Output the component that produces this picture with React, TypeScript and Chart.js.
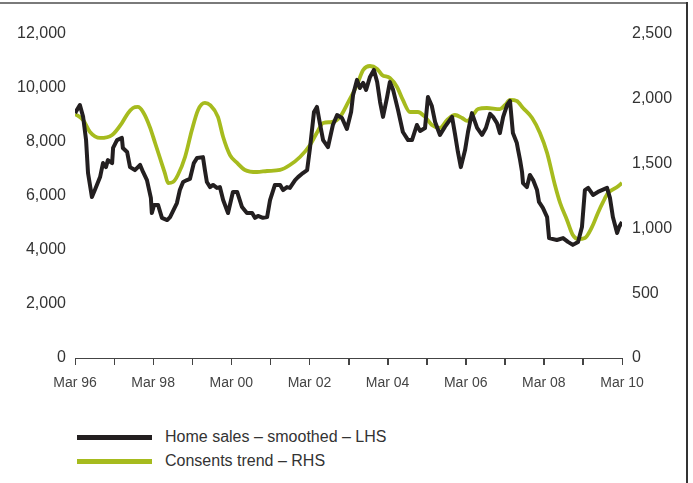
import React, { useEffect, useRef } from "react";
import { Chart, registerables } from "chart.js";

Chart.register(...registerables);

// Months elapsed since March 1996
const salesMonths = [
  0, 1.5, 2.5, 3.4, 4.0, 5.2, 6.1, 7.7, 8.6, 9.5, 10.1, 11.4, 11.7, 12.9, 14.4, 14.7, 16.0, 16.9, 18.4, 20.0,
  20.9, 22.1, 23.3, 23.6, 24.3, 25.5, 26.7, 28.3, 29.2, 31.3, 32.2, 33.2, 34.4, 35.3, 36.5, 37.5, 39.3, 39.9,
  40.5, 41.5, 42.4, 43.6, 44.5, 45.5, 47.0, 48.5, 49.8, 51.3, 52.8, 54.4, 55.3, 56.2, 57.7, 59.0, 59.9, 61.4,
  63.0, 63.9, 65.1, 66.0, 67.6, 68.5, 70.0, 71.3, 72.2, 73.4, 74.3, 75.2, 76.2, 77.7, 79.2, 80.5, 82.0, 83.5,
  84.8, 85.4, 86.6, 87.5, 88.5, 89.4, 90.6, 91.8, 92.8, 93.7, 94.6, 95.8, 96.7, 97.7, 99.2, 100.7, 102.3,
  103.5, 105.0, 106.0, 107.5, 108.4, 109.6, 110.6, 112.1, 113.6, 115.8, 116.7, 117.6, 118.5, 119.8, 120.7,
  121.9, 123.5, 125.0, 126.2, 127.5, 128.4, 129.6, 130.5, 131.5, 132.7, 133.6, 134.5, 135.7, 136.1, 136.7,
  137.3, 137.6, 138.8, 139.7, 140.7, 141.9, 142.5, 143.7, 145.0, 145.6, 148.0, 149.9, 151.4, 152.9, 154.5,
  155.7, 156.6, 157.6, 159.1, 160.6, 163.4, 164.3, 165.2, 166.5, 167.1, 168.0,
];
const salesValues = [
  9070, 9370, 8930, 8070, 6850, 5960, 6220, 6700, 7220, 7070, 7330, 7220, 7780, 8070, 8150, 7780, 7630, 7070, 6960, 7150,
  6890, 6590, 5930, 5370, 5670, 5670, 5190, 5110, 5220, 5740, 6220, 6520, 6590, 6630, 7220, 7410, 7440, 6960,
  6520, 6330, 6410, 6300, 6330, 5850, 5370, 6150, 6150, 5590, 5370, 5370, 5190, 5260, 5190, 5220, 5850, 6410,
  6410, 6220, 6330, 6300, 6590, 6700, 6850, 6960, 7810, 9110, 9300, 8700, 8070, 7810, 8630, 9000, 8890, 8480,
  9110, 9740, 10300, 10000, 10190, 9930, 10410, 10670, 10220, 9480, 8930, 9630, 10220, 9930, 9190, 8370, 8070,
  8070, 8630, 8410, 8520, 9670, 9330, 8740, 8260, 8560, 8930, 8300, 7630, 7070, 7700, 8370,
  9070, 8520, 8260, 8520, 9040, 8930, 8700, 8330, 8930, 9370, 9520, 8330, 7960, 7700, 7330,
  6890, 6480, 6330, 6780, 6590, 6220, 5780, 5560, 5220, 4440, 4370, 4440, 4300, 4190, 4300,
  4850, 6220, 6300, 6040, 6150, 6300, 5930, 5220, 4630, 4850, 5040,
];

const consentMonths = [
  0, 2.5, 4.6, 7.7, 11.4, 14.4, 16.3, 17.8, 19.3, 20.9, 23.0, 24.6, 26.1, 27.6, 28.6, 30.1, 31.6, 33.8, 35.9,
  37.8, 39.9, 41.5, 43.9, 45.5, 47.6, 49.8, 52.2, 55.9, 59.0, 63.0, 66.0, 69.1, 72.2, 74.6, 76.2, 78.9, 81.4,
  83.8, 86.6, 88.5, 90.6, 92.8, 94.3, 96.7, 98.9, 100.7, 102.9, 105.3, 107.5, 109.6, 112.1, 114.3, 116.7,
  118.9, 120.4, 122.2, 123.8, 126.5, 130.5, 132.1, 133.6, 135.7, 137.6, 140.4, 142.8, 145.0, 147.4, 149.0,
  151.1, 152.9, 154.5, 156.6, 158.8, 160.6, 162.2, 163.7, 166.5, 168.0,
];
const consentValues = [
  1883, 1836, 1744, 1698, 1721, 1813, 1890, 1929, 1937, 1898, 1782, 1659, 1543, 1427, 1350, 1358, 1412, 1551, 1759,
  1914, 1968, 1952, 1860, 1705, 1566, 1505, 1451, 1435, 1443, 1451, 1489, 1551, 1644, 1752, 1813, 1821, 1860,
  1968, 2106, 2222, 2253, 2230, 2184, 2160, 2091, 1991, 1898, 1898, 1860, 1798, 1775, 1836, 1875,
  1852, 1829, 1875, 1921, 1929, 1921, 1952, 1991, 1983, 1929, 1852, 1736, 1582, 1335, 1196,
  1065, 949, 918, 926, 1011, 1119, 1204, 1273, 1319, 1350,
];

const seriesLabels = ["Home sales – smoothed – LHS", "Consents trend – RHS"];
const seriesColors = ["#231f20", "#a6bb1e"];

const leftTicks = [0, 2000, 4000, 6000, 8000, 10000, 12000];
const rightTicks = [0, 500, 1000, 1500, 2000, 2500];
const startYear = 1996;

const fmt = (v: number) => v.toLocaleString("en-US");

const tickMarks = {
  id: "tickMarks",
  afterDraw(chart: any) {
    const xs = chart.scales.x;
    const ctx = chart.ctx;
    const y0 = chart.chartArea.bottom;
    ctx.save();
    ctx.strokeStyle = "#444";
    ctx.lineWidth = 1;
    ctx.setLineDash([]);
    xs.ticks.forEach((t: any) => {
      const px = Math.round(xs.getPixelForValue(t.value)) + 0.5;
      ctx.beginPath();
      ctx.moveTo(px, y0);
      ctx.lineTo(px, y0 + 7);
      ctx.stroke();
    });
    ctx.restore();
  },
};

export default function App() {
  const ref = useRef<HTMLCanvasElement | null>(null);

  useEffect(() => {
    if (!ref.current) return;
    const chart = new Chart(ref.current, {
      type: "line",
      data: {
        datasets: [
          {
            label: seriesLabels[0],
            data: salesMonths.map((m, i) => ({ x: m, y: salesValues[i] })),
            borderColor: seriesColors[0],
            borderWidth: 4,
            pointRadius: 0,
            tension: 0,
            yAxisID: "y",
            borderJoinStyle: "round",
          },
          {
            label: seriesLabels[1],
            data: consentMonths.map((m, i) => ({ x: m, y: consentValues[i] })),
            borderColor: seriesColors[1],
            borderWidth: 3.8,
            pointRadius: 0,
            cubicInterpolationMode: "monotone",
            yAxisID: "y1",
            borderJoinStyle: "round",
          },
        ],
      },
      plugins: [tickMarks],
      options: {
        responsive: false,
        animation: false,
        devicePixelRatio: 1,
        layout: { padding: { top: 34, left: 0, right: 0, bottom: 0 } },
        plugins: { legend: { display: false }, tooltip: { enabled: false } },
        scales: {
          x: {
            type: "linear",
            min: 0,
            max: 168,
            afterFit: (s: any) => {
              s.height = 42;
            },
            afterBuildTicks: (s: any) => {
              s.ticks = Array.from({ length: 15 }, (_, i) => ({ value: i * 12 }));
            },
            ticks: {
              autoSkip: false,
              maxRotation: 0,
              padding: 10,
              color: "#444",
              font: { family: "'Liberation Sans', Arial, sans-serif", size: 14 },
              callback: (v: any) => {
                const n = Number(v);
                if (n % 24 !== 0) return "";
                const yr = (startYear + n / 12) % 100;
                return "Mar " + String(yr).padStart(2, "0");
              },
            },
            grid: {
              drawOnChartArea: false,
              drawTicks: true,
              tickLength: 7,
              color: "#444",
              lineWidth: 1,
            },
            border: { display: true, dash: [2, 2], color: "#444", width: 1 },
          },
          y: {
            position: "left",
            min: 0,
            max: 12000,
            afterFit: (s: any) => {
              s.width = 75;
            },
            afterBuildTicks: (s: any) => {
              s.ticks = leftTicks.map((v) => ({ value: v }));
            },
            ticks: {
              padding: 9,
              color: "#333",
              font: { family: "'Liberation Sans', Arial, sans-serif", size: 16 },
              callback: (v: any) => fmt(Number(v)),
            },
            grid: { display: false, drawTicks: false },
            border: { display: false },
          },
          y1: {
            position: "right",
            min: 0,
            max: 2500,
            afterFit: (s: any) => {
              s.width = 71;
            },
            afterBuildTicks: (s: any) => {
              s.ticks = rightTicks.map((v) => ({ value: v }));
            },
            ticks: {
              padding: 10,
              color: "#333",
              font: { family: "'Liberation Sans', Arial, sans-serif", size: 16 },
              callback: (v: any) => fmt(Number(v)),
            },
            grid: { display: false, drawTicks: false },
            border: { display: false },
          },
        },
      },
    } as any);
    return () => chart.destroy();
  }, []);

  return (
    <div style={{ position: "absolute", left: 0, top: 0, width: 693, height: 483, background: "#fff", overflow: "hidden" }}>
      <canvas ref={ref} width={693} height={400} style={{ position: "absolute", left: 0, top: 0, display: "block" }} />
      <div style={{ position: "absolute", left: 0, top: 2, width: 688, height: 2, background: "#7a7a7a" }} />
      <div style={{ position: "absolute", left: 686, top: 2, width: 2, height: 481, background: "#333" }} />
      {seriesLabels.map((label, i) => (
        <div
          key={label}
          style={{
            position: "absolute",
            left: 77,
            top: 425 + i * 24,
            height: 24,
            display: "flex",
            alignItems: "center",
            fontFamily: "'Liberation Sans', Arial, sans-serif",
            fontSize: 16,
            color: "#333",
            whiteSpace: "nowrap",
          }}
        >
          <div style={{ width: 75, height: 5, background: seriesColors[i], marginRight: 13 }} />
          <span>{label}</span>
        </div>
      ))}
    </div>
  );
}
